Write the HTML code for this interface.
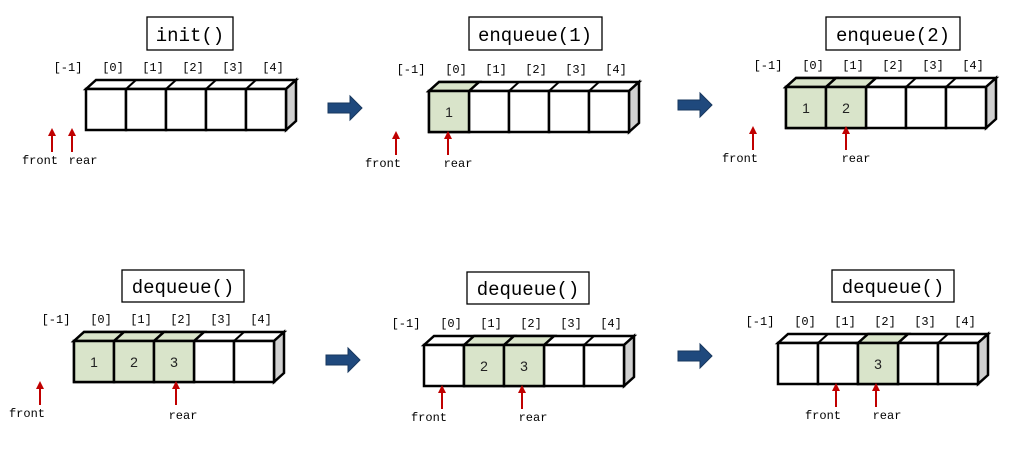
<!DOCTYPE html>
<html><head><meta charset="utf-8"><style>
html,body{margin:0;padding:0;background:#fff;}
svg{display:block;}
.t{font-family:"Liberation Mono","DejaVu Sans Mono",monospace;font-size:19px;text-anchor:middle;fill:#000;}
.i{font-family:"Liberation Mono","DejaVu Sans Mono",monospace;font-size:12px;text-anchor:middle;fill:#000;}
.n{font-family:"Liberation Sans","DejaVu Sans",sans-serif;font-size:14px;text-anchor:middle;fill:#222;}
.c{fill:#fff;stroke:#000;stroke-width:2.5;}
.g{fill:#d9e4ca;stroke:#000;stroke-width:2.5;}
</style></head><body>
<svg width="1033" height="455" viewBox="0 0 1033 455" xmlns="http://www.w3.org/2000/svg">
<defs>
<g id="box">
<polygon points="0,0 10,-9 210,-9 200,0" fill="#fff" stroke="#000" stroke-width="2.5"/>
<polygon points="200,0 210,-9 210,32 200,41" fill="#d0d0d0" stroke="#000" stroke-width="2.5"/>
<line x1="40" y1="0" x2="50" y2="-9" stroke="#000" stroke-width="2"/>
<line x1="80" y1="0" x2="90" y2="-9" stroke="#000" stroke-width="2"/>
<line x1="120" y1="0" x2="130" y2="-9" stroke="#000" stroke-width="2"/>
<line x1="160" y1="0" x2="170" y2="-9" stroke="#000" stroke-width="2"/>
<rect class="c" x="0" y="0" width="40" height="41"/>
<rect class="c" x="40" y="0" width="40" height="41"/>
<rect class="c" x="80" y="0" width="40" height="41"/>
<rect class="c" x="120" y="0" width="40" height="41"/>
<rect class="c" x="160" y="0" width="40" height="41"/>
</g>
<g id="idx">
<text class="i" x="-18" y="-18">[-1]</text>
<text class="i" x="27" y="-18">[0]</text>
<text class="i" x="67" y="-18">[1]</text>
<text class="i" x="107" y="-18">[2]</text>
<text class="i" x="147" y="-18">[3]</text>
<text class="i" x="187" y="-18">[4]</text>
</g>
<g id="up"><line x1="0" y1="0" x2="0" y2="-18" stroke="#c00000" stroke-width="2"/><polygon points="-4,-16 4,-16 0,-24" fill="#c00000"/></g>
<g id="ba"><polygon points="0,-5 22,-5 22,-12 34,0 22,12 22,5 0,5" fill="#1f497d" stroke="#17375e" stroke-width="1"/></g>
</defs>

<rect x="147" y="17" width="86" height="33" fill="#fff" stroke="#000" stroke-width="1.3"/>
<text class="t" x="190" y="41">init()</text>
<g transform="translate(86,89)"><use href="#box"/><use href="#idx"/></g>
<use href="#up" x="52" y="152"/><use href="#up" x="72" y="152"/>
<text class="i" x="40" y="164">front</text><text class="i" x="83" y="164">rear</text>
<use href="#ba" x="328" y="108"/>

<rect x="469" y="17" width="133" height="33" fill="#fff" stroke="#000" stroke-width="1.3"/>
<text class="t" x="535" y="41">enqueue(1)</text>
<g transform="translate(429,91)"><use href="#box"/><use href="#idx"/>
<polygon class="g" points="0,0 10,-9 50,-9 40,0"/><rect class="g" x="0" y="0" width="40" height="41"/>
<text class="n" x="20" y="26">1</text></g>
<use href="#up" x="396" y="155"/><use href="#up" x="448" y="155"/>
<text class="i" x="383" y="167">front</text><text class="i" x="458" y="167">rear</text>
<use href="#ba" x="678" y="105"/>

<rect x="826" y="17" width="134" height="33" fill="#fff" stroke="#000" stroke-width="1.3"/>
<text class="t" x="893" y="41">enqueue(2)</text>
<g transform="translate(786,87)"><use href="#box"/><use href="#idx"/>
<polygon class="g" points="0,0 10,-9 50,-9 40,0"/><polygon class="g" points="40,0 50,-9 90,-9 80,0"/>
<rect class="g" x="0" y="0" width="40" height="41"/><rect class="g" x="40" y="0" width="40" height="41"/>
<text class="n" x="20" y="26">1</text><text class="n" x="60" y="26">2</text></g>
<use href="#up" x="753" y="150"/><use href="#up" x="846" y="150"/>
<text class="i" x="740" y="162">front</text><text class="i" x="856" y="162">rear</text>

<rect x="122" y="270" width="122" height="32" fill="#fff" stroke="#000" stroke-width="1.3"/>
<text class="t" x="183" y="293">dequeue()</text>
<g transform="translate(74,341)"><use href="#box"/><use href="#idx"/>
<polygon class="g" points="0,0 10,-9 50,-9 40,0"/><polygon class="g" points="40,0 50,-9 90,-9 80,0"/><polygon class="g" points="80,0 90,-9 130,-9 120,0"/>
<rect class="g" x="0" y="0" width="40" height="41"/><rect class="g" x="40" y="0" width="40" height="41"/><rect class="g" x="80" y="0" width="40" height="41"/>
<text class="n" x="20" y="26">1</text><text class="n" x="60" y="26">2</text><text class="n" x="100" y="26">3</text></g>
<use href="#up" x="40" y="405"/><use href="#up" x="176" y="405"/>
<text class="i" x="27" y="417">front</text><text class="i" x="183" y="419">rear</text>
<use href="#ba" x="326" y="360"/>

<rect x="467" y="272" width="122" height="32" fill="#fff" stroke="#000" stroke-width="1.3"/>
<text class="t" x="528" y="295">dequeue()</text>
<g transform="translate(424,345)"><use href="#box"/><use href="#idx"/>
<polygon class="g" points="40,0 50,-9 90,-9 80,0"/><polygon class="g" points="80,0 90,-9 130,-9 120,0"/>
<rect class="g" x="40" y="0" width="40" height="41"/><rect class="g" x="80" y="0" width="40" height="41"/>
<text class="n" x="60" y="26">2</text><text class="n" x="100" y="26">3</text></g>
<use href="#up" x="442" y="409"/><use href="#up" x="522" y="409"/>
<text class="i" x="429" y="421">front</text><text class="i" x="533" y="421">rear</text>
<use href="#ba" x="678" y="356"/>

<rect x="832" y="270" width="122" height="32" fill="#fff" stroke="#000" stroke-width="1.3"/>
<text class="t" x="893" y="293">dequeue()</text>
<g transform="translate(778,343)"><use href="#box"/><use href="#idx"/>
<polygon class="g" points="80,0 90,-9 130,-9 120,0"/>
<rect class="g" x="80" y="0" width="40" height="41"/>
<text class="n" x="100" y="26">3</text></g>
<use href="#up" x="836" y="407"/><use href="#up" x="876" y="407"/>
<text class="i" x="823" y="419">front</text><text class="i" x="887" y="419">rear</text>
</svg>
</body></html>
